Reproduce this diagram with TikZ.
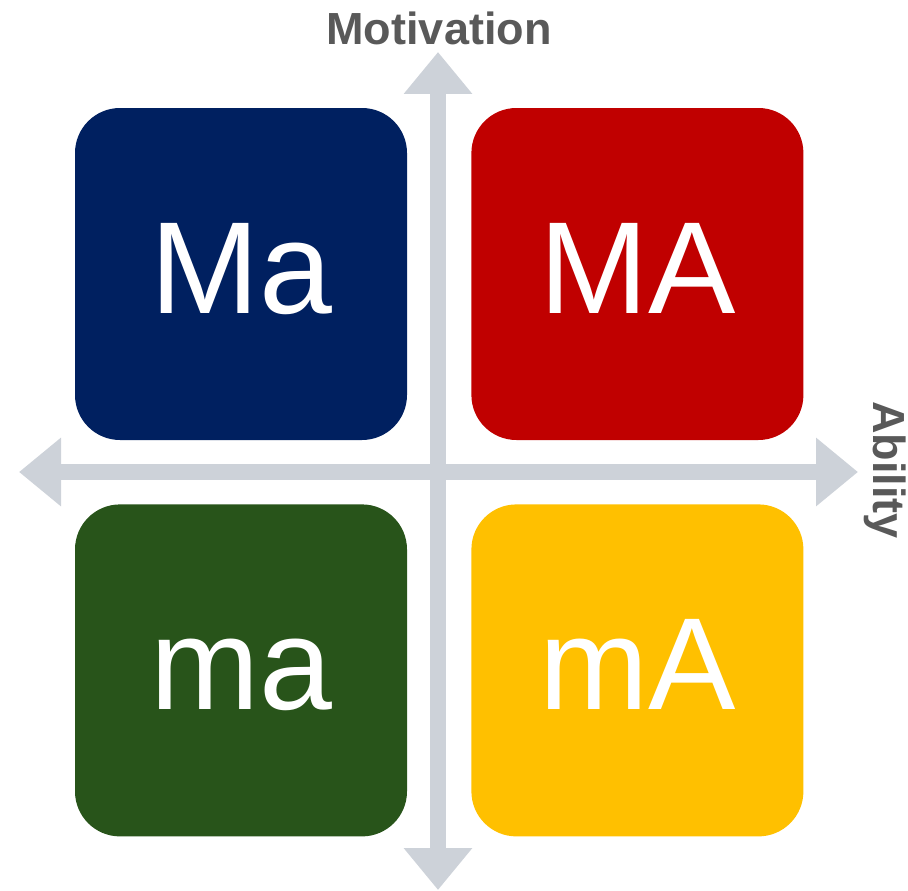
\documentclass[tikz,border=0pt]{standalone}
\usepackage{fontspec}
\setmainfont{Liberation Sans}
\usetikzlibrary{arrows.meta, positioning}
\definecolor{navy}{RGB}{0, 32, 96}
\definecolor{crimson}{RGB}{192, 0, 0}
\definecolor{forest}{RGB}{40, 84, 26}
\definecolor{amber}{RGB}{255, 192, 0}
\definecolor{axisgray}{RGB}{205, 210, 217}
\definecolor{labelgray}{RGB}{89, 89, 89}

\begin{document}
\begin{tikzpicture}[
            x=1pt, y=-1pt,
            quadbox/.style={fill=#1, rounded corners=45pt, minimum width=332pt, minimum height=332pt, inner sep=0pt, text=white, text height=94pt, text depth=16pt, font=\fontsize{131}{140}\selectfont},
            axislabel/.style={text=labelgray, inner sep=0pt, font=\fontsize{45}{50}\selectfont\bfseries},
            axis/.style={{Triangle[width=66pt, length=42pt]}-{Triangle[width=66pt, length=42pt]}, line width=16.5pt, axisgray}
        ]
            \useasboundingbox (0,0) rectangle (908,891);

            % Axes
            \coordinate (north) at (438,52);
            \coordinate (south) at (438,890);
            \coordinate (west) at (19,472);
            \coordinate (east) at (858,472);

            \draw[axis] (south) -- (north);
            \draw[axis] (west) -- (east);

            % Quadrants
            \node[quadbox=navy] (Ma) at (241,274) {Ma};
            \node[quadbox=crimson, right=64pt of Ma] (MA) {MA};
            \node[quadbox=forest, below=64pt of Ma] (ma) {ma};
            \node[quadbox=amber, below=64pt of MA] (mA) {mA};

            % Axis labels
            \node[axislabel] (motivation) at (439,28) {Motivation};
            \node[axislabel, rotate=-90] (ability) at (885,470) {Ability};

        \end{tikzpicture}
\end{document}
